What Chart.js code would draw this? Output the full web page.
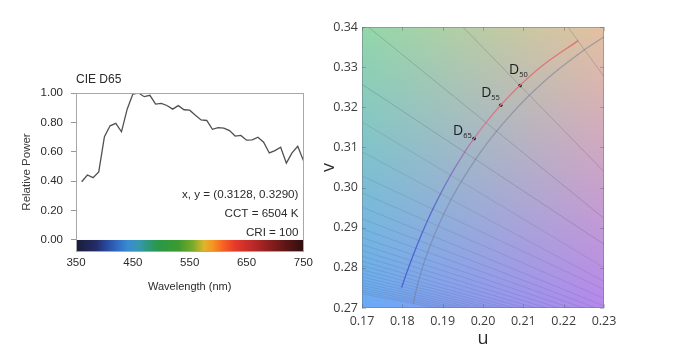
<!DOCTYPE html>
<html>
<head>
<meta charset="utf-8">
<style>
  html, body { margin: 0; padding: 0; background: #ffffff; width: 687px; height: 356px; overflow: hidden; }
  #spd { position: absolute; left: 0; top: 0; }
  #uv { position: absolute; left: 318px; top: 0; }
</style>
<script src="https://cdn.jsdelivr.net/npm/chart.js"></script>
</head>
<body>
<canvas id="spd" width="318" height="356" style="width:318px;height:356px"></canvas>
<canvas id="uv" width="369" height="356" style="width:369px;height:356px"></canvas>
<script>
// ---------------- Left chart data: CIE D65 relative spectral power ----------------
const spdTitle = 'CIE D65';
const wavelengths = [360,370,380,390,400,410,420,430,440,450,460,470,480,490,500,510,520,530,540,550,
                     560,570,580,590,600,610,620,630,640,650,660,670,680,690,700,710,720,730,740,750];
const relativePower = [0.396,0.442,0.424,0.463,0.703,0.777,0.793,0.736,0.890,0.993,1.000,0.975,0.984,0.924,0.929,0.915,0.890,0.914,0.886,0.883,
                       0.849,0.817,0.813,0.753,0.764,0.761,0.744,0.707,0.711,0.679,0.681,0.699,0.665,0.592,0.608,0.631,0.523,0.593,0.638,0.540];
const spdXTicks = [350,450,550,650,750];
const spdYTicks = [0,0.2,0.4,0.6,0.8,1.0];
const spdNotes = ['x, y = (0.3128, 0.3290)', 'CCT = 6504 K', 'CRI = 100'];

// ---------------- Right chart data: CIE 1960 uv diagram ----------------
const uvXTicks = [0.17,0.18,0.19,0.20,0.21,0.22,0.23];
const uvYTicks = [0.27,0.28,0.29,0.30,0.31,0.32,0.33,0.34];
// Planckian locus (CCT in K, u, v)
const planckT = [3700,3800,4000,4500,5000,5500,6000,6500,7000,8000,9000,10000,12000,15000,20000,25000,30000];
const planckU = [0.23107,0.22897,0.22515,0.21738,0.21150,0.20696,0.20337,0.20049,0.19815,0.19461,0.19210,0.19025,0.18778,0.18568,0.18398,0.18318,0.18273];
const planckV = [0.33820,0.33689,0.33434,0.32837,0.32301,0.31825,0.31405,0.31032,0.30702,0.30147,0.29701,0.29337,0.28783,0.28223,0.27664,0.27331,0.27110];
// Daylight locus
const daylightT = [4000,4500,5000,5500,6000,6500,7000,8000,10000,12000,15000,20000,25000];
const daylightU = [0.22359,0.21533,0.20914,0.20442,0.20074,0.19782,0.19546,0.19191,0.18755,0.18503,0.18280,0.18085,0.17982];
const daylightV = [0.33661,0.33083,0.32544,0.32056,0.31618,0.31229,0.30883,0.30300,0.29462,0.28900,0.28346,0.27812,0.27507];
// Isotemperature lines: v at the left (u=0.17) and right (u=0.23) ends
const isoU = [0.17, 0.23];
const isoT = [4000,5000,6000,7000,8000,9000,10000,11000,12000,13000,14000,15000,16000,17000,18000,19000,20000,21000,22000,23000,24000,25000,26000,27000,28000,29000,30000];
const isoVLeft  = [0.41045,0.36576,0.34128,0.32573,0.31636,0.30891,0.30291,0.29867,0.29513,0.29220,0.28971,0.28754,0.28579,0.28425,0.28288,0.28165,0.28055,0.27954,0.27861,0.27777,0.27700,0.27629,0.27565,0.27506,0.27451,0.27400,0.27352];
const isoVRight = [0.32765,0.30396,0.29232,0.28586,0.28006,0.27660,0.27466,0.27239,0.27049,0.26923,0.26815,0.26722,0.26636,0.26560,0.26492,0.26431,0.26377,0.26352,0.26328,0.26307,0.26288,0.26270,0.26257,0.26244,0.26233,0.26223,0.26212];
// Standard illuminants
const dPointSub = ['65','55','50'];
const dPointU = [0.1978,0.2044,0.2092];
const dPointV = [0.3122,0.3205,0.3254];

// ---------------- Styles ----------------
const spectrumStops = [
  [350,'#1b1c3a'],[385,'#232c66'],[405,'#2a4aa2'],[425,'#3070c4'],[442,'#3a8bd0'],[460,'#3797b0'],
  [478,'#2c9878'],[495,'#2a9846'],[530,'#3c9a2e'],[555,'#78aa2a'],[575,'#dcb62a'],[590,'#f59622'],
  [608,'#f76322'],[630,'#e5392b'],[660,'#bd2a28'],[690,'#8c1f1e'],[720,'#5c1515'],[750,'#2f0f0f']
];
const bgCorners = { tl:[146,215,170], tr:[228,192,160], bl:[104,170,246], br:[181,136,237] };
const dLabelOffsets = [[-16,-8],[-14.5,-12.5],[-6,-16]];
const sansL = '"Liberation Sans", Arial, sans-serif';
const sansR = '"Open Sans", sans-serif';

Chart.defaults.animation = false;
Chart.defaults.devicePixelRatio = 1;

// ---------------- Left chart ----------------
const spectrumBar = {
  id: 'spectrumBar',
  beforeDatasetsDraw(chart) {
    const { ctx, chartArea: a, scales: { x, y } } = chart;
    const x0 = x.getPixelForValue(350), x1 = x.getPixelForValue(750);
    const y0 = y.getPixelForValue(0);
    const g = ctx.createLinearGradient(x0, 0, x1, 0);
    spectrumStops.forEach(([w, c]) => g.addColorStop((w - 350) / 400, c));
    ctx.save();
    ctx.fillStyle = g;
    ctx.fillRect(x0, y0, x1 - x0, a.bottom - y0);
    ctx.restore();
  },
  afterDraw(chart) {
    const { ctx, chartArea: a } = chart;
    ctx.save();
    ctx.strokeStyle = '#a8a8a8';
    ctx.lineWidth = 1;
    ctx.strokeRect(Math.round(a.left) + 0.5, Math.round(a.top) + 0.5, Math.round(a.right - a.left), Math.round(a.bottom - a.top));
    ctx.fillStyle = '#2a2a2a';
    ctx.font = '12px ' + sansL;
    ctx.textBaseline = 'middle';
    ctx.textAlign = 'left';
    ctx.fillText(spdTitle, a.left, 80);
    ctx.textAlign = 'right';
    ctx.font = '11.6px ' + sansL;
    const ys = [195, 213.5, 233];
    spdNotes.forEach((t, i) => ctx.fillText(t, a.right - 5, ys[i]));
    ctx.restore();
  }
};

new Chart(document.getElementById('spd'), {
  type: 'line',
  data: {
    datasets: [{
      data: wavelengths.map((w, i) => ({ x: w, y: relativePower[i] })),
      borderColor: '#505050',
      borderWidth: 1.3,
      pointRadius: 0,
      tension: 0,
      fill: false
    }]
  },
  options: {
    responsive: false,
    events: [],
    layout: { padding: { left: 15, top: 93, right: 11, bottom: 60 } },
    plugins: { legend: { display: false }, tooltip: { enabled: false } },
    scales: {
      x: {
        type: 'linear', min: 350, max: 750,
        afterBuildTicks: s => { s.ticks = spdXTicks.map(v => ({ value: v })); },
        afterFit: s => { s.height = 45; },
        grid: { display: false, drawTicks: false },
        border: { display: false },
        ticks: { padding: 5, color: '#2a2a2a', font: { family: sansL, size: 11.5 }, maxRotation: 0, callback: v => String(v) },
        title: { display: true, text: 'Wavelength (nm)', color: '#2a2a2a', padding: { top: 0, bottom: 2 }, font: { family: sansL, size: 11 } }
      },
      y: {
        type: 'linear', min: -0.075, max: 1.0,
        afterBuildTicks: s => { s.ticks = spdYTicks.map(v => ({ value: v })); },
        afterFit: s => { s.width = 61; },
        grid: { drawOnChartArea: false, drawTicks: true, tickLength: 5, color: '#999999' },
        border: { display: false },
        ticks: { padding: 8, color: '#2a2a2a', font: { family: sansL, size: 11.5 }, callback: v => Number(v).toFixed(2) },
        title: { display: true, text: 'Relative Power', color: '#3a3a3a', padding: { top: 5, bottom: 0 }, font: { family: sansL, size: 11.5 } }
      }
    }
  },
  plugins: [spectrumBar]
});

// ---------------- Right chart ----------------
function mixColor(a, b, t) { return a.map((v, i) => Math.round(v + (b[i] - v) * t)); }
const uvBackground = {
  id: 'uvBackground',
  beforeDraw(chart) {
    const { ctx, chartArea: a } = chart;
    const h = Math.round(a.bottom - a.top);
    ctx.save();
    for (let i = 0; i < h; i++) {
      const t = i / (h - 1);
      const L = mixColor(bgCorners.tl, bgCorners.bl, t);
      const R = mixColor(bgCorners.tr, bgCorners.br, t);
      const g = ctx.createLinearGradient(a.left, 0, a.right, 0);
      g.addColorStop(0, `rgb(${L.join(',')})`);
      g.addColorStop(1, `rgb(${R.join(',')})`);
      ctx.fillStyle = g;
      ctx.fillRect(a.left, a.top + i, a.right - a.left, 1);
    }
    ctx.restore();
  },
  afterDatasetsDraw(chart) {
    const { ctx, chartArea: a, scales: { x, y } } = chart;
    ctx.save();
    dPointSub.forEach((sub, i) => {
      const px = x.getPixelForValue(dPointU[i]);
      const py = y.getPixelForValue(dPointV[i]);
      const [ox, oy] = dLabelOffsets[i];
      ctx.fillStyle = '#1c1c1c';
      ctx.font = '14px ' + sansR;
      ctx.textAlign = 'center';
      ctx.textBaseline = 'middle';
      ctx.fillText('D', px + ox, py + oy);
      const w = ctx.measureText('D').width;
      ctx.font = '7.5px ' + sansR;
      ctx.textAlign = 'left';
      ctx.fillText(sub, px + ox + w / 2, py + oy + 5.5);
    });
    ctx.strokeStyle = 'rgba(110,115,125,0.5)';
    ctx.lineWidth = 1;
    ctx.strokeRect(Math.round(a.left) + 0.5, Math.round(a.top) + 0.5, Math.round(a.right - a.left) - 1, Math.round(a.bottom - a.top) - 1);
    ctx.strokeStyle = 'rgba(80,85,95,0.35)';
    ctx.beginPath();
    uvXTicks.forEach(v => {
      const px = Math.round(x.getPixelForValue(v)) + 0.5;
      ctx.moveTo(px, a.bottom); ctx.lineTo(px, a.bottom - 4);
      ctx.moveTo(px, a.top); ctx.lineTo(px, a.top + 4);
    });
    uvYTicks.forEach(v => {
      const py = Math.round(y.getPixelForValue(v)) + 0.5;
      ctx.moveTo(a.left, py); ctx.lineTo(a.left + 4, py);
      ctx.moveTo(a.right, py); ctx.lineTo(a.right - 4, py);
    });
    ctx.stroke();
    ctx.restore();
  }
};

const isoDatasets = isoT.map((t, i) => ({
  data: [{ x: isoU[0], y: isoVLeft[i] }, { x: isoU[1], y: isoVRight[i] }],
  showLine: true,
  borderColor: t <= 7000 ? 'rgba(90,100,112,0.3)' : 'rgba(90,100,112,0.2)',
  borderWidth: 1,
  pointRadius: 0
}));

const daylightGradient = (context) => {
  const { chart } = context;
  const { ctx, chartArea } = chart;
  if (!chartArea) return '#8080c0';
  const g = ctx.createLinearGradient(0, chartArea.bottom, 0, chartArea.top);
  g.addColorStop(0, '#4260d6');
  g.addColorStop(0.35, '#5868d2');
  g.addColorStop(0.52, '#9078c0');
  g.addColorStop(0.64, '#d27c8e');
  g.addColorStop(1, '#e6706a');
  return g;
};

new Chart(document.getElementById('uv'), {
  type: 'scatter',
  data: {
    datasets: [
      ...isoDatasets,
      {
        data: planckU.map((u, i) => ({ x: u, y: planckV[i] })),
        showLine: true, borderColor: 'rgba(120,126,155,0.6)', borderWidth: 1.2, pointRadius: 0, tension: 0.3
      },
      {
        data: daylightU.map((u, i) => ({ x: u, y: daylightV[i] })),
        showLine: true, borderColor: daylightGradient, borderWidth: 1.3, pointRadius: 0, tension: 0.3
      },
      {
        data: dPointU.map((u, i) => ({ x: u, y: dPointV[i] })),
        showLine: false, pointRadius: 1.8, pointBackgroundColor: '#151515', pointBorderWidth: 0
      }
    ]
  },
  options: {
    responsive: false,
    events: [],
    layout: { padding: { left: 0, top: 27, right: 83, bottom: 5 } },
    plugins: { legend: { display: false }, tooltip: { enabled: false } },
    scales: {
      x: {
        type: 'linear', min: 0.17, max: 0.23,
        afterBuildTicks: s => { s.ticks = uvXTicks.map(v => ({ value: v })); },
        afterFit: s => { s.height = 43; },
        grid: { display: false, drawTicks: false },
        border: { display: false },
        ticks: { padding: 6, color: '#3c3c3c', font: { family: sansR, size: 12.5 }, maxRotation: 0, callback: v => Number(v).toFixed(2) },
        title: { display: true, text: 'u', color: '#2a2a2a', padding: { top: 0, bottom: 1 }, font: { family: sansR, size: 18 } }
      },
      y: {
        type: 'linear', min: 0.27, max: 0.34,
        afterBuildTicks: s => { s.ticks = uvYTicks.map(v => ({ value: v })); },
        afterFit: s => { s.width = 44; },
        grid: { display: false, drawTicks: false },
        border: { display: false },
        ticks: { padding: 4, color: '#3c3c3c', font: { family: sansR, size: 12.5 }, callback: v => Number(v).toFixed(2) },
        title: { display: true, text: 'v', color: '#2a2a2a', padding: { top: 0, bottom: 0 }, font: { family: sansR, size: 18 } }
      }
    }
  },
  plugins: [uvBackground]
});
</script>
</body>
</html>
